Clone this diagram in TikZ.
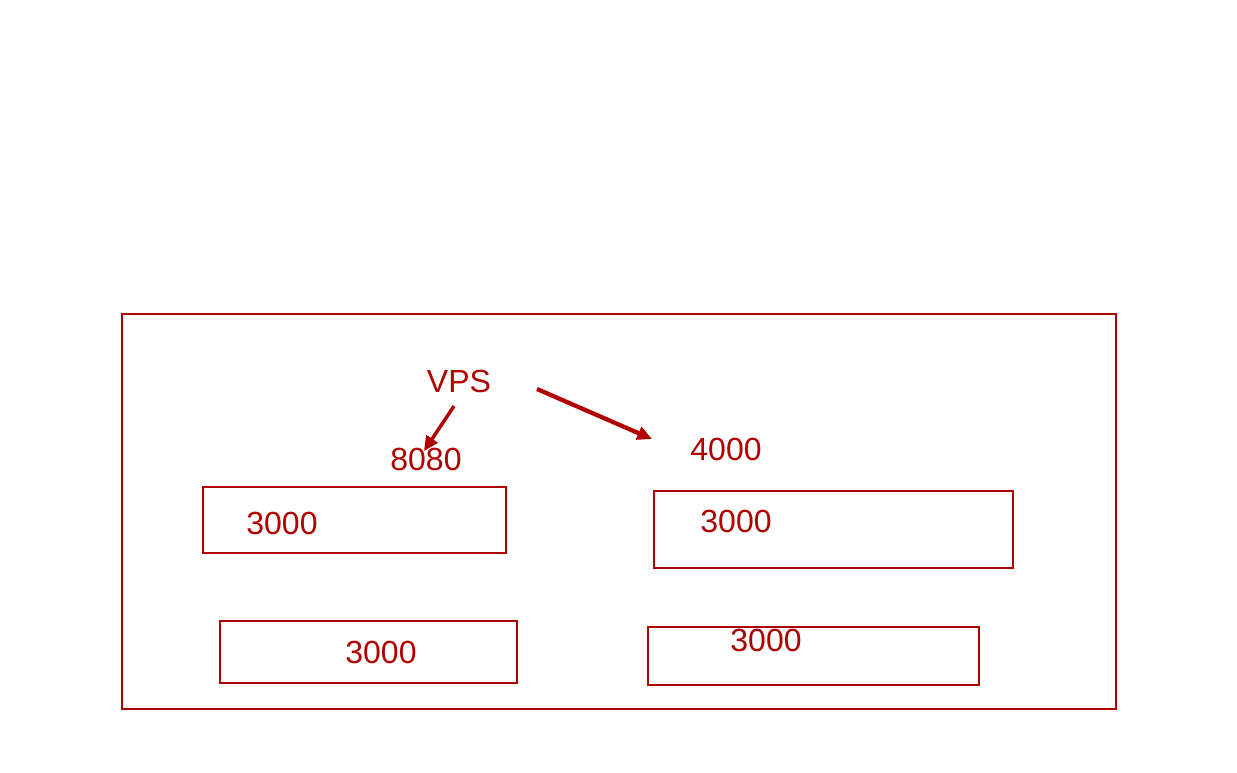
\documentclass[tikz,border=0pt]{standalone}
\usepackage{fontspec}
\setmainfont{Liberation Sans}
\usetikzlibrary{arrows.meta}
\definecolor{dred}{RGB}{176,0,0}
\begin{document}
\begin{tikzpicture}[x=0.75pt,y=-0.75pt,
  box/.style={draw=dred,line width=1.5pt},
  lbl/.style={text=dred,font=\fontsize{24}{28}\selectfont,inner sep=0pt},
  arr/.style={draw=dred,line width=#1,-{Triangle[length=11pt,width=10pt]}}]
\useasboundingbox (0,0) rectangle (1237,772);
\draw[box] (122,314) rectangle (1116,709);
\draw[box] (203,487) rectangle (506,553);
\draw[box] (654,491) rectangle (1013,568);
\draw[box] (220,621) rectangle (517,683);
\draw[box] (648,627) rectangle (979,685);
\node[lbl] (b1) at (282,523) {3000};
\node[lbl] (b2) at (736,521) {3000};
\node[lbl] (b3) at (381,652) {3000};
\node[lbl] (b4) at (766,640) {3000};
\node[lbl] (vps) at (459,381) {VPS};
\node[lbl] (p8080) at (426,459) {8080};
\node[lbl] (p4000) at (726,449) {4000};
\coordinate (a1s) at (454,406);
\coordinate (a1e) at (424,451);
\coordinate (a2s) at (537,389);
\coordinate (a2e) at (652,439);
\draw[arr=2.6pt] (a1s) -- (a1e);
\draw[arr=3.2pt] (a2s) -- (a2e);
\end{tikzpicture}
\end{document}
